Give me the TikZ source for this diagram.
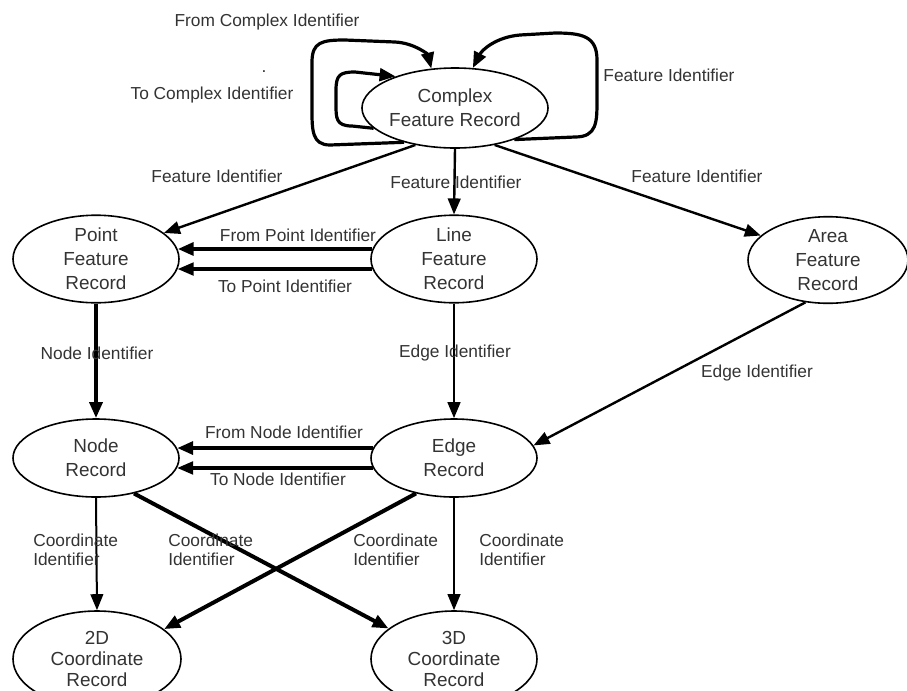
\documentclass[tikz,border=0pt]{standalone}
\usepackage{fontspec}
\setmainfont{Liberation Sans}
\usetikzlibrary{shapes.geometric,arrows.meta}

\begin{document}
\begin{tikzpicture}[x=0.75pt,y=-0.75pt,
        rec/.style={ellipse,draw,line width=1.2pt,minimum width=124.5pt,minimum height=60pt,inner sep=0pt,align=center,font=\fontsize{14.2}{18}\selectfont,text=black!80},
        lbl/.style={font=\fontsize{13}{14.3}\selectfont,text=black!80,inner sep=0pt,align=left},
        ar/.style={-{Triangle[length=12pt,width=9.5pt]},line width=1.8pt},
        thinar/.style={ar,line width=1.5pt},
        heavy/.style={ar,line width=3pt},
        loopar/.style={ar,line width=2.4pt,line join=round}]
        \useasboundingbox (0,0) rectangle (907,690);
        \node[rec,minimum width=118.5pt] (complex) at (455,108) {Complex\\Feature Record};
        \node[rec] (point) at (96,259) {Point\\Feature\\Record};
        \node[rec] (linefeat) at (454,259) {Line\\Feature\\Record};
        \node[rec,minimum width=120pt,minimum height=61.5pt] (area) at (828,260) {Area\\Feature\\Record};
        \node[rec,minimum height=58.5pt] (noderec) at (96,458) {Node\\Record};
        \node[rec,minimum height=58.5pt] (edgerec) at (454,458) {Edge\\Record};
        \node[rec,minimum width=126pt,minimum height=72pt,font=\fontsize{14.2}{16}\selectfont] (coordtwo) at (97,659) {2D\\Coordinate\\Record};
        \node[rec,minimum height=72pt,font=\fontsize{14.2}{16}\selectfont] (coordthree) at (454,659) {3D\\Coordinate\\Record};
        \draw[loopar] (complex.214) -- (330,145) .. controls (312,145) and (312,130) .. (312,110) -- (312,62) .. controls (312,42) and (322,40) .. (345,40) -- (395,42) .. controls (415,43) and (428,55) .. (complex.121);
        \draw[loopar] (complex.194) -- (352,126) .. controls (336,126) and (336,118) .. (336,105) -- (336,90) .. controls (336,75) and (340,72) .. (355,72) -- (complex.152);
        \draw[loopar] (complex.-28) -- (575,137) .. controls (597,137) and (597,122) .. (597,100) -- (597,60) .. controls (597,36) and (582,33) .. (555,33) -- (520,35) .. controls (496,37) and (482,50) .. (complex.66);
        \node[lbl] (fromcx) at (267,22) {From Complex Identifier};
        \node[lbl] (dot) at (264,72) {.};
        \node[lbl] (tocx) at (212,95) {To Complex Identifier};
        \node[lbl] (featloop) at (669,75) {Feature Identifier};
        \draw[ar] (complex.223) -- (point.21);
        \node[lbl] (featpt) at (217,176) {Feature Identifier};
        \draw[ar] (complex.south) -- (linefeat.north);
        \node[lbl] (featln) at (456,182) {Feature Identifier};
        \draw[ar] (complex.-43) -- (area.160);
        \node[lbl] (featar) at (697,176) {Feature Identifier};
        \draw[heavy] (linefeat.173) -- (point.7);
        \draw[ar,line width=2.3pt] (linefeat.187) -- (point.-7);
        \node[lbl] (frompt) at (298,235) {From Point Identifier};
        \node[lbl] (topt) at (285,286) {To Point Identifier};
        \draw[heavy] (point.south) -- (noderec.north);
        \node[lbl] (nodeid) at (97,353) {Node Identifier};
        \draw[ar] (linefeat.south) -- (edgerec.north);
        \node[lbl] (edgeid) at (455,353) {Edge Identifier};
        \draw[ar] (area.242) -- (edgerec.9);
        \node[lbl] (edgeidar) at (757,373) {Edge Identifier};
        \draw[heavy] (edgerec.173) -- (noderec.7);
        \draw[ar,line width=2.3pt] (edgerec.187) -- (noderec.-7);
        \node[lbl] (fromnd) at (284,432) {From Node Identifier};
        \node[lbl] (tond) at (278,479) {To Node Identifier};
        \draw[thinar] (noderec.south) -- (coordtwo.north);
        \draw[heavy] (noderec.-43) -- (coordthree.155);
        \draw[heavy] (edgerec.223) -- (coordtwo.24);
        \draw[thinar] (edgerec.south) -- (coordthree.north);
        \node[lbl,anchor=west] (crdone) at (33,550) {Coordinate\\Identifier};
        \node[lbl,anchor=west] (crdtwo) at (168,550) {Coordinate\\Identifier};
        \node[lbl,anchor=west] (crdthree) at (353,550) {Coordinate\\Identifier};
        \node[lbl,anchor=west] (crdfour) at (479,550) {Coordinate\\Identifier};
    \end{tikzpicture}
\end{document}
